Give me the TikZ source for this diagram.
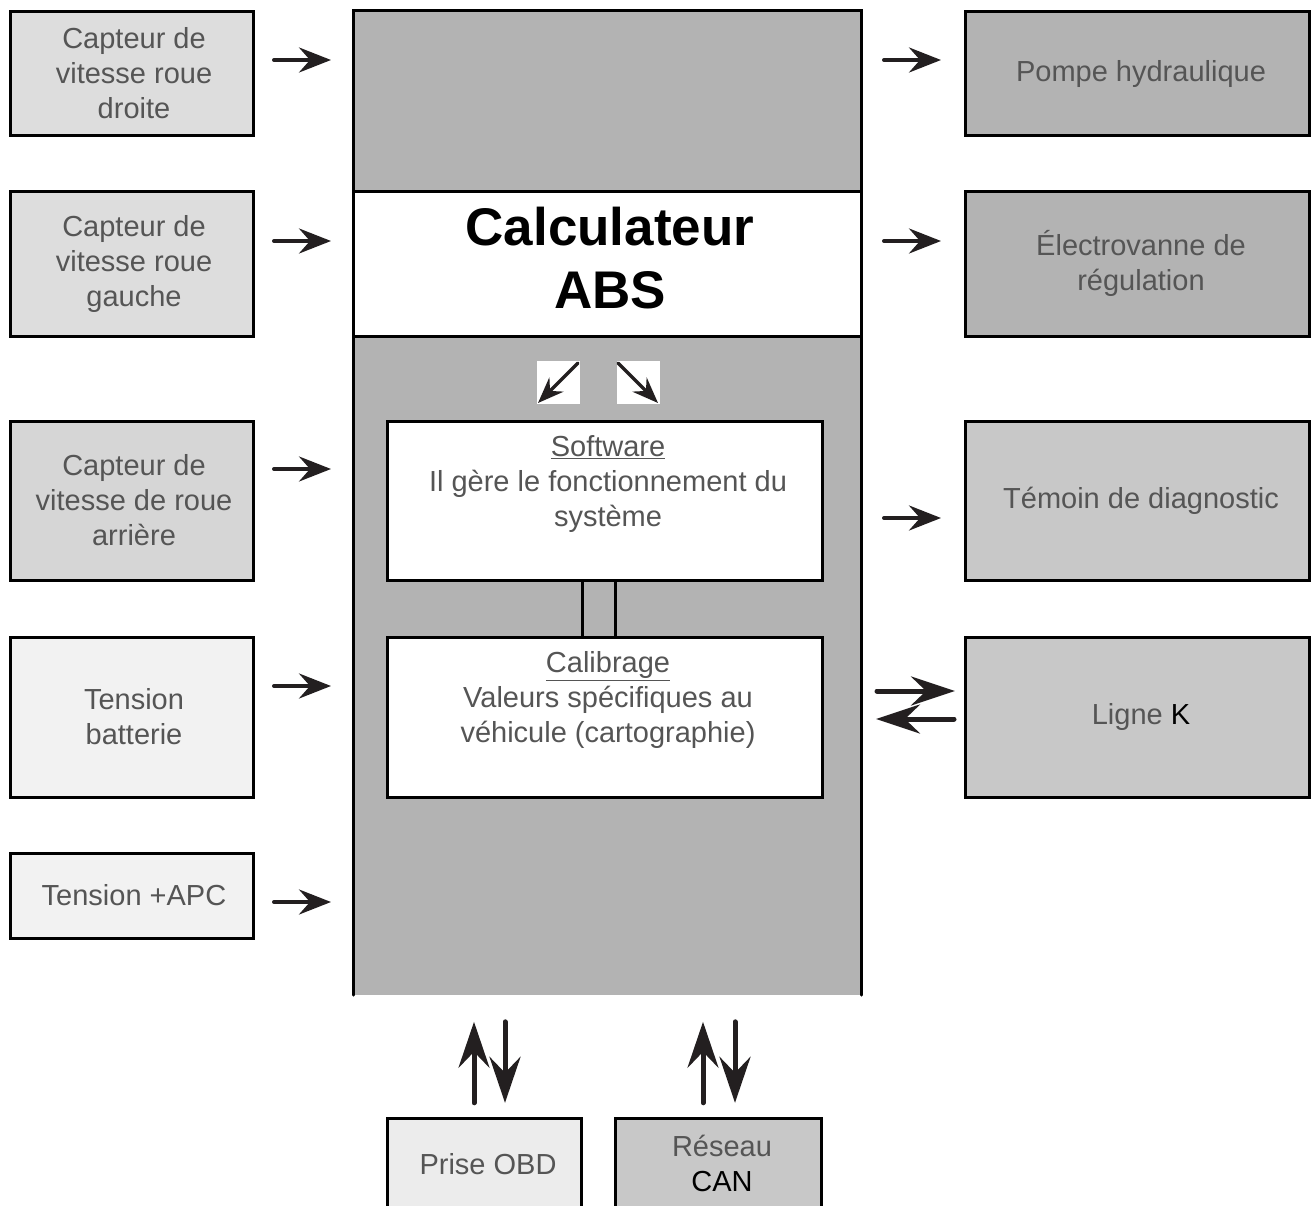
\documentclass[tikz,border=0pt]{standalone}
\usepackage{fontspec}
\setmainfont{Liberation Sans}
\usetikzlibrary{arrows.meta}
\definecolor{txt}{HTML}{555555}
\definecolor{gA}{HTML}{DDDDDD}
\definecolor{gB}{HTML}{D6D6D6}
\definecolor{gC}{HTML}{F2F2F2}
\definecolor{gM}{HTML}{B3B3B3}
\definecolor{gR}{HTML}{C8C8C8}
\definecolor{gO}{HTML}{ECECEC}
\definecolor{ink}{HTML}{231F20}
\begin{document}
\begin{tikzpicture}[x=1pt,y=-1pt,
  box/.style={draw=black, line width=3pt, inner sep=0pt},
  lbl/.style={font=\fontsize{29}{35}\selectfont, text=txt, align=center},
  arr/.style={draw=ink, line width=4pt, -{Stealth[length=32pt,width=25pt,inset=11pt]}},
  bigarr/.style={draw=ink, line width=5pt, -{Stealth[length=44pt,width=29pt,inset=15pt]}},
  varr/.style={draw=ink, line width=5pt, -{Stealth[length=46pt,width=31pt,inset=16pt]}},
  sarr/.style={draw=ink, line width=3.5pt, -{Stealth[length=26pt,width=20pt,inset=9pt]}},
  line cap=round
]
\useasboundingbox (0,0) rectangle (1311,1206);

% left boxes
\node[box, fill=gA, minimum width=243pt, minimum height=124pt] (cd) at (131.5,74) {};
\node[lbl] (cdt) at (134,73) {Capteur de\\vitesse roue\\droite};
\node[box, fill=gA, minimum width=243pt, minimum height=144pt] (cg) at (131.5,264) {};
\node[lbl] (cgt) at (134,264) {Capteur de\\vitesse roue\\gauche};
\node[box, fill=gB, minimum width=243pt, minimum height=159pt] (ca) at (131.5,500.5) {};
\node[lbl] (cat) at (134,500.5) {Capteur de\\vitesse de roue\\arrière};
\node[box, fill=gC, minimum width=243pt, minimum height=160pt] (tb) at (131.5,717) {};
\node[lbl] (tbt) at (134,716.5) {Tension\\batterie};
\node[box, fill=gC, minimum width=243pt, minimum height=85pt] (ta) at (131.5,895.5) {};
\node[lbl] (tat) at (134,895) {Tension +APC};

% main block
\fill[gM] (353,11) rectangle (861,995);
\draw[line width=3pt] (353,995) -- (353,11) -- (861,11) -- (861,995);
\node[box, fill=white, minimum width=508pt, minimum height=144pt] (calc) at (607,264) {};
\node[font=\bfseries\fontsize{53}{63}\selectfont, align=center] (calct) at (610,258) {Calculateur\\ABS};

% small arrow boxes
\node[fill=white, minimum size=43pt, inner sep=0pt] (s1) at (558.5,382.5) {};
\node[fill=white, minimum size=43pt, inner sep=0pt] (s2) at (638.5,382.5) {};
\draw[sarr] ([shift={(19.5,-19.5)}]s1.center) -- ([shift={(-20.5,20.5)}]s1.center);
\draw[sarr] ([shift={(-20.5,-19.5)}]s2.center) -- ([shift={(19.5,20.5)}]s2.center);

% software / calibrage
\node[box, fill=white, minimum width=435pt, minimum height=159pt] (sw) at (604.5,500.5) {};
\node[lbl] (swt) at (608,484) {\underline{Software}\\Il gère le fonctionnement du\\système};
\node[box, fill=white, minimum width=435pt, minimum height=160pt] (cal) at (604.5,717) {};
\node[lbl] (calt) at (608,700) {\underline{Calibrage}\\Valeurs spécifiques au\\véhicule (cartographie)};
\draw[line width=3pt, line cap=butt] ([xshift=-22.5pt]sw.south) -- ([xshift=-22.5pt]cal.north);
\draw[line width=3pt, line cap=butt] ([xshift=10.5pt]sw.south) -- ([xshift=10.5pt]cal.north);

% right boxes
\node[box, fill=gM, minimum width=344pt, minimum height=124pt] (ph) at (1137,74) {};
\node[lbl] (pht) at (1141,74) {Pompe hydraulique};
\node[box, fill=gM, minimum width=344pt, minimum height=144pt] (ev) at (1137,264) {};
\node[lbl] (evt) at (1141,263.5) {Électrovanne de\\régulation};
\node[box, fill=gR, minimum width=344pt, minimum height=159pt] (td) at (1137,500.5) {};
\node[lbl] (tdt) at (1141,501) {Témoin de diagnostic};
\node[box, fill=gR, minimum width=344pt, minimum height=160pt] (lk) at (1137,717) {};
\node[lbl] (lkt) at (1141,717) {Ligne {\color{black}K}};

% bottom boxes
\node[fill=gO, minimum width=193pt, minimum height=87pt, inner sep=0pt] (obd) at (484.5,1162.5) {};
\node[lbl] (obdt) at (488,1164) {Prise OBD};
\draw[line width=3pt, line cap=butt] (obd.south west) -- (obd.north west) -- (obd.north east) -- (obd.south east);
\node[fill=gR, minimum width=205pt, minimum height=87pt, inner sep=0pt] (can) at (718.5,1162.5) {};
\node[lbl] (cant) at (722,1163.5) {Réseau\\{\color{black}CAN}};
\draw[line width=3pt, line cap=butt] (can.south west) -- (can.north west) -- (can.north east) -- (can.south east);

% left arrows
\foreach \n/\y in {a/60, b/241, c/469, d/686, e/902} {
  \coordinate (l\n s) at (274,\y);
  \coordinate (l\n e) at (331,\y);
  \draw[arr] (l\n s) -- (l\n e);
}
% right arrows
\foreach \n/\y in {a/60, b/241, c/518} {
  \coordinate (r\n s) at (884,\y);
  \coordinate (r\n e) at (941,\y);
  \draw[arr] (r\n s) -- (r\n e);
}
% Ligne K arrows
\coordinate (k1s) at (877,691);
\coordinate (k1e) at (955,691);
\coordinate (k2s) at (954,719);
\coordinate (k2e) at (876,719);
\draw[bigarr] (k1s) -- (k1e);
\draw[bigarr] (k2s) -- (k2e);

% bottom arrows
\draw[varr] ([shift={(-10.5,-16)}]obd.north) -- ([shift={(-10.5,-97)}]obd.north);
\draw[varr] ([shift={(20.5,-97)}]obd.north) -- ([shift={(20.5,-16)}]obd.north);
\draw[varr] ([shift={(-15.5,-16)}]can.north) -- ([shift={(-15.5,-97)}]can.north);
\draw[varr] ([shift={(16.5,-97)}]can.north) -- ([shift={(16.5,-16)}]can.north);
\end{tikzpicture}
\end{document}
